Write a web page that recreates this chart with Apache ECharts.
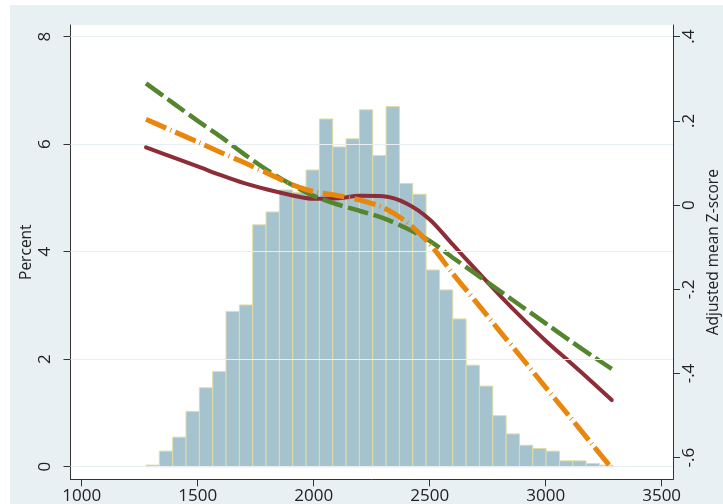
<!DOCTYPE html>
<html>
<head>
<meta charset="utf-8">
<script src="https://cdn.jsdelivr.net/npm/echarts@6/dist/echarts.min.js"></script>
<style>
  html, body { margin: 0; padding: 0; background: #fff; }
  #chart { position: absolute; left: 10px; top: 5px; width: 713px; height: 499px; background: #e9f0f3; }
</style>
</head>
<body>
<div id="chart"></div>
<script>
// histogram bins (left/right edges) and percent per bin
const binEdges = [1277, 1334.5, 1392, 1449.5, 1507, 1564.5, 1622, 1679.5, 1737, 1794.5, 1852, 1909.5,
  1967, 2024.5, 2082, 2139.5, 2197, 2254.5, 2312, 2369.5, 2427, 2484.5, 2542, 2599.5, 2657, 2714.5,
  2772, 2829.5, 2887, 2944.5, 3002, 3059.5, 3117, 3174.5, 3232, 3289.5]
const binPercent = [0.03, 0.29, 0.55, 1.03, 1.47, 1.77, 2.89, 3.01, 4.50, 4.74, 5.15, 5.10,
  5.52, 6.47, 5.95, 6.10, 6.64, 5.79, 6.70, 5.27, 5.07, 3.66, 3.29, 2.75, 1.89, 1.50,
  0.95, 0.61, 0.40, 0.34, 0.29, 0.11, 0.11, 0.06, 0.03]

// fitted curves, adjusted mean z-score
const curveX = [1277, 1400, 1500, 1600, 1700, 1800, 1900, 2000, 2100, 2200, 2300, 2400, 2500,
  2600, 2700, 2800, 2900, 3000, 3100, 3200, 3285]
const redZ = [0.137, 0.112, 0.092, 0.071, 0.052, 0.037, 0.024, 0.015, 0.016, 0.022, 0.021, 0.004, -0.034,
  -0.094, -0.154, -0.213, -0.269, -0.322, -0.371, -0.420, -0.463]
const greenZ = [0.289, 0.240, 0.200, 0.162, 0.121, 0.083, 0.050, 0.022, 0.002, -0.014, -0.031, -0.055, -0.085,
  -0.125, -0.164, -0.203, -0.242, -0.281, -0.320, -0.358, -0.389]
const orangeZ = [0.204, 0.174, 0.150, 0.125, 0.101, 0.076, 0.050, 0.032, 0.023, 0.012, -0.006, -0.040, -0.092,
  -0.163, -0.230, -0.298, -0.365, -0.433, -0.500, -0.568, -0.625]

// axis ticks
const xTicks = [1000, 1500, 2000, 2500, 3000, 3500]
const percentTicks = [0, 2, 4, 6, 8]
const zTicks = [-0.6, -0.4, -0.2, 0, 0.2, 0.4]
const zTickLabels = ['-.6', '-.4', '-.2', '0', '.2', '.4']

const font = '"Open Sans", sans-serif'
const ink = '#222'

const chart = echarts.init(document.getElementById('chart'))

const pairs = (xs, ys) => xs.map((x, i) => [x, ys[i]])

const baseAxis = {
  axisLine: { show: true, onZero: false, lineStyle: { color: '#333', width: 1 } },
  splitLine: { show: false }
}

chart.setOption({
  animation: false,
  grid: {
    left: 60.5, right: 50, top: 20, bottom: 24.7,
    containLabel: false,
    outerBoundsMode: 'none',
    show: true, backgroundColor: '#fff', borderWidth: 0
  },
  xAxis: {
    ...baseAxis,
    type: 'value',
    min: 951.5,
    max: 3549,
    axisTick: { show: true, length: 7, customValues: xTicks, lineStyle: { color: '#333' } },
    axisLabel: {
      customValues: xTicks, fontSize: 17, color: ink, fontFamily: font, margin: 8,
      formatter: (v) => String(v)
    }
  },
  yAxis: [
    {
      ...baseAxis,
      type: 'value',
      position: 'left',
      min: -0.234,
      max: 8.218,
      name: 'Percent',
      nameLocation: 'middle',
      nameRotate: 90,
      nameGap: 36,
      nameMoveOverlap: false,
      nameTextStyle: { fontSize: 15.5, color: ink, fontFamily: font },
      axisTick: { show: true, length: 7, customValues: percentTicks, lineStyle: { color: '#333' } },
      axisLabel: { customValues: percentTicks, rotate: 90, fontSize: 17, color: ink, fontFamily: font, margin: 17 }
    },
    {
      ...baseAxis,
      type: 'value',
      position: 'right',
      min: -0.6513,
      max: 0.4278,
      name: 'Adjusted mean Z-score',
      nameLocation: 'middle',
      nameRotate: 90,
      nameGap: 33,
      nameTextStyle: { fontSize: 15.5, color: ink, fontFamily: font },
      axisTick: { show: true, length: 7, customValues: zTicks, lineStyle: { color: '#333' } },
      axisLabel: {
        customValues: zTicks, rotate: 90, fontSize: 17, color: ink, fontFamily: font, margin: 8,
        formatter: (v) => zTickLabels[zTicks.findIndex(t => Math.abs(t - v) < 1e-9)]
      }
    }
  ],
  series: [
    {
      // horizontal grid lines at the percent ticks
      type: 'line',
      data: [],
      yAxisIndex: 0,
      z: 1,
      markLine: {
        silent: true,
        symbol: 'none',
        label: { show: false },
        lineStyle: { color: '#e6eef1', width: 1, type: 'solid' },
        data: percentTicks.map(t => ({ yAxis: t }))
      }
    },
    {
      type: 'custom',
      yAxisIndex: 0,
      z: 2,
      encode: { x: [0, 1], y: 2 },
      data: binPercent.map((v, i) => [binEdges[i], binEdges[i + 1], v]),
      renderItem: (params, api) => {
        const p0 = api.coord([api.value(0), api.value(2)])
        const p1 = api.coord([api.value(1), 0])
        return {
          type: 'rect',
          shape: { x: p0[0], y: p0[1], width: p1[0] - p0[0], height: p1[1] - p0[1] },
          style: { fill: '#a5c3cf', stroke: '#e0dca4', lineWidth: 1 }
        }
      }
    },
    {
      type: 'line',
      yAxisIndex: 1,
      z: 3,
      smooth: 0.3,
      symbol: 'none',
      data: pairs(curveX, redZ),
      lineStyle: { color: '#8c2d38', width: 4, cap: 'round' }
    },
    {
      type: 'line',
      yAxisIndex: 1,
      z: 4,
      smooth: 0.3,
      symbol: 'none',
      data: pairs(curveX, greenZ),
      lineStyle: { color: '#56852f', width: 4.5, type: [21, 5.5] }
    },
    {
      type: 'line',
      yAxisIndex: 1,
      z: 5,
      smooth: 0.3,
      symbol: 'none',
      data: pairs(curveX, orangeZ),
      lineStyle: { color: '#e9860c', width: 5, type: [22, 4.5, 1, 4.5] }
    }
  ]
})
</script>
</body>
</html>
